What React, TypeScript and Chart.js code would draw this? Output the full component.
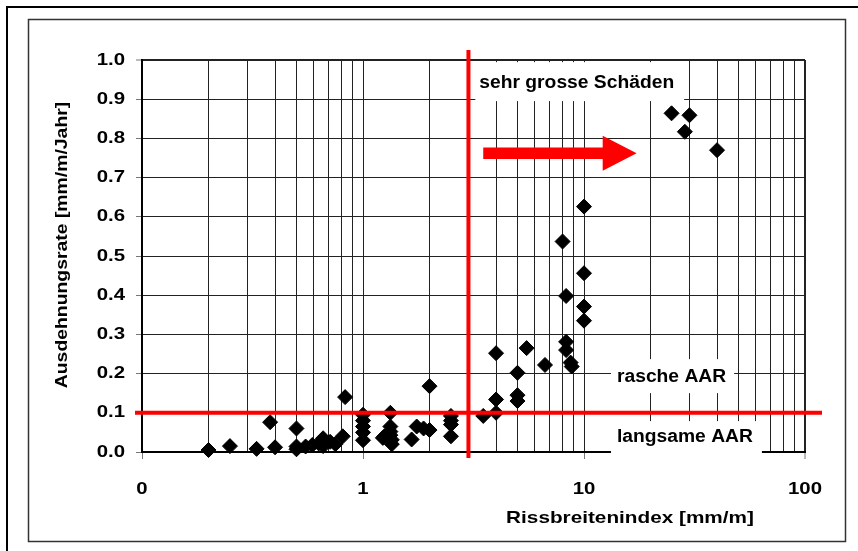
import React, { useEffect, useRef } from "react";
import { Chart, registerables } from "chart.js";

Chart.register(...registerables);

// ---- data ----
const pointX = [
  0.2, 0.25, 0.33, 0.4, 0.38, 0.5, 0.5, 0.5, 0.55, 0.59, 0.63, 0.66, 0.66, 0.71, 0.75, 0.81, 0.83,
  1.0, 1.0, 1.0, 1.0, 1.0,
  1.23, 1.25, 1.33, 1.33, 1.33, 1.33, 1.35, 1.35,
  1.66, 1.75, 1.88, 2.0, 2.0,
  2.5, 2.5, 2.5, 2.5,
  3.5, 4.0, 4.0, 4.0, 5.0, 5.0, 5.0, 5.5, 6.66,
  8.0, 8.3, 8.3, 8.3, 8.7, 8.8,
  10, 10, 10, 10,
  24.9, 30, 28.6, 40,
];
const pointY = [
  0.005, 0.015, 0.008, 0.012, 0.076, 0.06, 0.014, 0.007, 0.014, 0.018, 0.022, 0.035, 0.015, 0.026, 0.02, 0.04, 0.14,
  0.095, 0.08, 0.065, 0.05, 0.03,
  0.036, 0.04, 0.1, 0.065, 0.052, 0.043, 0.031, 0.02,
  0.032, 0.065, 0.06, 0.056, 0.168,
  0.092, 0.08, 0.07, 0.04,
  0.092, 0.1, 0.134, 0.252, 0.202, 0.145, 0.13, 0.265, 0.222,
  0.537, 0.398, 0.281, 0.26, 0.228, 0.218,
  0.626, 0.456, 0.371, 0.335,
  0.864, 0.859, 0.817, 0.77,
];

const xMajorValues = [0.1, 1, 10, 100];
const xTickLabels = ["0", "1", "10", "100"];
const xDecades = [0.1, 1, 10];
const xMultipliers = [1, 2, 3, 4, 5, 6, 7, 8, 9];
const yTickValues = [0, 0.1, 0.2, 0.3, 0.4, 0.5, 0.6, 0.7, 0.8, 0.9, 1.0];
const yTickLabels = ["0.0", "0.1", "0.2", "0.3", "0.4", "0.5", "0.6", "0.7", "0.8", "0.9", "1.0"];

const xTitle = "Rissbreitenindex [mm/m]";
const yTitle = "Ausdehnungsrate [mm/m/Jahr]";

const thresholdX = 3;
const thresholdY = 0.1;
const arrowFrom = [3.5, 0.762];
const arrowHeadBase = 12.15;
const arrowTip = 17.3;

const labelTop = "sehr grosse Schäden";
const labelRapid = "rasche AAR";
const labelSlow = "langsame AAR";

const FONT = '"Liberation Sans", Arial, Helvetica, sans-serif';

const xGridValues: number[] = [];
xDecades.forEach((d) => xMultipliers.forEach((m) => xGridValues.push(Math.round(d * m * 1000) / 1000)));
xGridValues.push(100);

function drawStretched(
  ctx: CanvasRenderingContext2D,
  text: string,
  x: number,
  y: number,
  sx: number,
  align: CanvasTextAlign,
  font: string,
  rot = 0
) {
  ctx.save();
  ctx.translate(x, y);
  if (rot) ctx.rotate(rot);
  ctx.scale(sx, 1);
  ctx.font = font;
  ctx.fillStyle = "#000";
  ctx.textAlign = align;
  ctx.textBaseline = "middle";
  ctx.fillText(text, 0, 0);
  ctx.restore();
}

const decorPlugin = {
  id: "decor",
  beforeDraw(chart: any) {
    const ctx = chart.ctx as CanvasRenderingContext2D;
    ctx.save();
    ctx.fillStyle = "#fff";
    ctx.fillRect(0, 0, chart.width, chart.height);
    // outer frame (top / left)
    ctx.strokeStyle = "#000";
    ctx.lineWidth = 2;
    ctx.beginPath();
    ctx.moveTo(7, chart.height + 5);
    ctx.lineTo(7, 7);
    ctx.lineTo(chart.width + 5, 7);
    ctx.stroke();
    // inner frame
    ctx.strokeStyle = "#333";
    ctx.lineWidth = 1.5;
    ctx.strokeRect(28.5, 19.5, 817, 522);
    ctx.restore();
  },
  beforeDatasetsDraw(chart: any) {
    const ctx = chart.ctx as CanvasRenderingContext2D;
    const xs = chart.scales.x;
    const ys = chart.scales.y;
    const font = `bold 18px ${FONT}`;
    const sx = 1.07;
    ctx.save();
    ctx.font = font;
    const boxes: [string, number, number, number, number, number, number][] = [
      [labelTop, 3.36, 0.941, 4, 10, 21, 18],
      [labelRapid, 14.1, 0.191, 6, 8, 18, 16],
      [labelSlow, 14.1, 0.038, 6, 9, 16, 20],
    ];
    boxes.forEach(([t, vx, vy, pl, pr, pt, pb]) => {
      const px = xs.getPixelForValue(vx);
      const py = ys.getPixelForValue(vy);
      const w = ctx.measureText(t).width * sx;
      ctx.fillStyle = "#fff";
      ctx.fillRect(px - pl, py - pt, w + pl + pr, pt + pb);
    });
    boxes.forEach(([t, vx, vy]) => {
      drawStretched(ctx, t, xs.getPixelForValue(vx), ys.getPixelForValue(vy), sx, "left", font);
    });
    ctx.restore();
  },
  afterDatasetsDraw(chart: any) {
    const ctx = chart.ctx as CanvasRenderingContext2D;
    const xs = chart.scales.x;
    const ys = chart.scales.y;
    const area = chart.chartArea;
    ctx.save();
    ctx.strokeStyle = "#ff0000";
    ctx.lineWidth = 4;
    const vx = xs.getPixelForValue(thresholdX);
    ctx.beginPath();
    ctx.moveTo(vx, area.top - 10);
    ctx.lineTo(vx, area.bottom + 6);
    ctx.stroke();
    const hy = ys.getPixelForValue(thresholdY);
    ctx.beginPath();
    ctx.moveTo(area.left - 7, hy);
    ctx.lineTo(area.right + 17, hy);
    ctx.stroke();
    // arrow
    const ax0 = xs.getPixelForValue(arrowFrom[0]);
    const ay = ys.getPixelForValue(arrowFrom[1]);
    const ahb = xs.getPixelForValue(arrowHeadBase);
    const atip = xs.getPixelForValue(arrowTip);
    ctx.fillStyle = "#ff0000";
    ctx.beginPath();
    ctx.moveTo(ax0, ay - 5.7);
    ctx.lineTo(ahb, ay - 5.7);
    ctx.lineTo(ahb, ay - 17.5);
    ctx.lineTo(atip, ay);
    ctx.lineTo(ahb, ay + 17.5);
    ctx.lineTo(ahb, ay + 5.7);
    ctx.lineTo(ax0, ay + 5.7);
    ctx.closePath();
    ctx.fill();
    ctx.restore();
  },
  afterDraw(chart: any) {
    const ctx = chart.ctx as CanvasRenderingContext2D;
    const xs = chart.scales.x;
    const ys = chart.scales.y;
    const area = chart.chartArea;
    const tickFont = `bold 17px ${FONT}`;
    yTickValues.forEach((v, i) => {
      drawStretched(ctx, yTickLabels[i], area.left - 17, ys.getPixelForValue(v), 1.2, "right", tickFont);
    });
    xMajorValues.forEach((v, i) => {
      drawStretched(ctx, xTickLabels[i], xs.getPixelForValue(v), area.bottom + 37, 1.2, "center", tickFont);
    });
    drawStretched(ctx, xTitle, 630, area.bottom + 66, 1.22, "center", `bold 17px ${FONT}`);
    drawStretched(ctx, yTitle, 62, 245, 1.14, "center", `bold 17px ${FONT}`, -Math.PI / 2);
  },
};

export default function App() {
  const ref = useRef<HTMLCanvasElement | null>(null);
  useEffect(() => {
    if (!ref.current) return;
    const points = pointX.map((x, i) => ({ x, y: pointY[i] }));
    const chart = new Chart(ref.current, {
      type: "scatter",
      data: {
        datasets: [
          {
            data: points,
            pointStyle: "rectRot",
            pointRadius: 7.5,
            pointHoverRadius: 7.5,
            backgroundColor: "#000",
            borderColor: "#000",
            borderWidth: 1,
            clip: false,
          } as any,
        ],
      },
      options: {
        animation: false,
        responsive: false,
        devicePixelRatio: 1,
        events: [],
        layout: { padding: { left: 136, top: 60, right: 53, bottom: 92 } },
        plugins: { legend: { display: false }, tooltip: { enabled: false } },
        scales: {
          x: {
            type: "logarithmic",
            min: 0.1,
            max: 100,
            afterBuildTicks: (scale: any) => {
              scale.ticks = xGridValues.map((v) => ({ value: v, major: xMajorValues.includes(v) }));
            },
            ticks: { display: false },
            grid: {
              color: "#222",
              lineWidth: (c: any) => (c.tick && c.tick.value === 100 ? 2 : 1),
              drawTicks: true,
              tickLength: 7,
              tickWidth: 1,
              tickColor: (c: any) =>
                c.tick && xMajorValues.includes(c.tick.value) ? "#777" : "rgba(0,0,0,0)",
            },
            border: { display: true, color: "#000", width: 2 },
            title: { display: false },
          },
          y: {
            type: "linear",
            min: 0,
            max: 1,
            afterBuildTicks: (scale: any) => {
              scale.ticks = yTickValues.map((v) => ({ value: v }));
            },
            ticks: { display: false },
            grid: {
              color: "#222",
              lineWidth: (c: any) => (c.tick && Math.abs(c.tick.value - 1) < 1e-9 ? 2 : 1),
              drawTicks: true,
              tickLength: 6,
              tickWidth: 1,
              tickColor: "#777",
            },
            border: { display: true, color: "#000", width: 2 },
            title: { display: false },
          },
        },
      } as any,
      plugins: [decorPlugin],
    });
    return () => chart.destroy();
  }, []);

  return (
    <div style={{ position: "absolute", left: 0, top: 0, width: 858, height: 551, background: "#fff" }}>
      <canvas ref={ref} width={858} height={551} style={{ display: "block" }} />
    </div>
  );
}
